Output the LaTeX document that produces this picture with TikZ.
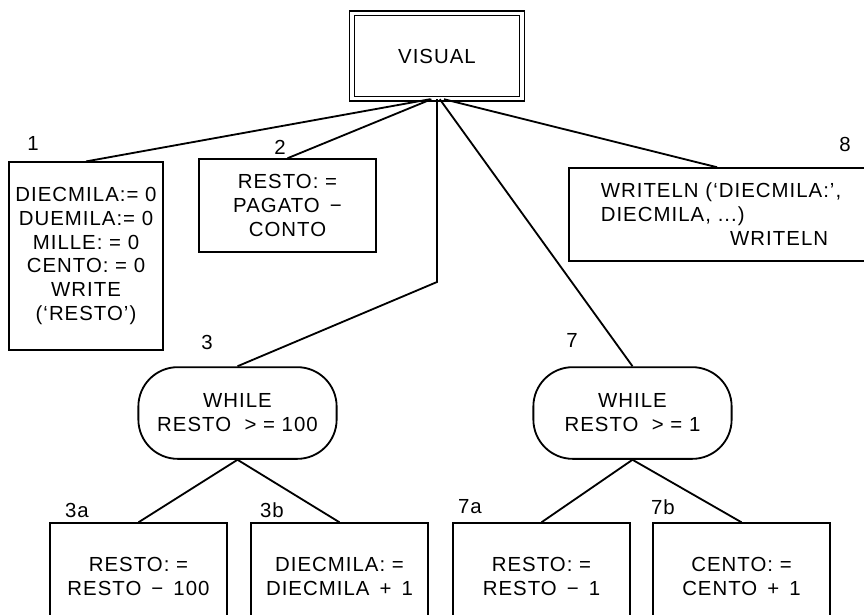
\documentclass[tikz,border=0pt]{standalone}
\usepackage{fontspec}
\setmainfont{Liberation Sans}[LetterSpace=5]

\begin{document}
\begin{tikzpicture}[x=0.025cm, y=-0.025cm,
	every node/.style={font=\fontsize{14.5}{17}\selectfont},
	box/.style={draw, line width=1.3pt, align=center, inner sep=0pt},
	cell/.style={box, minimum width=125.4pt, minimum height=75.8pt},
	whilebox/.style={box, rounded corners=28pt, minimum width=141pt, minimum height=65.2pt},
	num/.style={inner sep=0pt},
	link/.style={line width=1.3pt}]

	\clip (0,0) rectangle (864,614);

	% main block
	\node[box, double, line width=0.9pt, double distance=2.6pt,
		minimum width=121pt, minimum height=60.6pt] (vis) at (437,56) {VISUAL};

	% first level
	\node[box, minimum width=109.1pt, minimum height=133.2pt] (init) at (86,256)
		{DIECMILA:= 0\\DUEMILA:= 0\\MILLE: = 0\\CENTO: = 0\\WRITE\\(‘RESTO’)};
	\node[box, minimum width=125.4pt, minimum height=65.9pt] (resto) at (287.5,205.5)
		{RESTO: =\\PAGATO \,−\\CONTO};
	\node[box, anchor=west, align=left, text width=191pt, inner xsep=22.7pt,
		minimum height=65.9pt] (out) at (568,214.5)
		{WRITELN (‘DIECMILA:’,\\DIECMILA, ...)\\\makebox[161.6pt][r]{WRITELN}};

	\node[whilebox] (w100) at (237.5,413) {WHILE\\RESTO \ > = 100};
	\node[whilebox] (w1) at (632.5,413) {WHILE\\RESTO \ > = 1};

	% loop bodies
	\node[cell] (c3a) at (138.5,576.5) {RESTO: =\\RESTO \,−\, 100};
	\node[cell] (c3b) at (339.5,576.5) {DIECMILA: =\\DIECMILA \,+\, 1};
	\node[cell] (c7a) at (541.5,576.5) {RESTO: =\\RESTO \,−\, 1};
	\node[cell] (c7b) at (741.5,576.5) {CENTO: =\\CENTO \,+\, 1};

	% step numbers
	\node[num] (n1) at (33,143) {1};
	\node[num] (n2) at (280,147) {2};
	\node[num] (n3) at (207,342) {3};
	\node[num] (n7) at (572,340) {7};
	\node[num] (n8) at (845,144) {8};
	\node[num] (n3a) at (77,510) {3a};
	\node[num] (n3b) at (272,510) {3b};
	\node[num] (n7a) at (470,507) {7a};
	\node[num] (n7b) at (663,507) {7b};

	\coordinate (bend) at (437,282);

	\draw[link] ([xshift=-5pt]vis.south) -- (init.north);
	\draw[link] ([xshift=-4pt]vis.south) -- (resto.north);
	\draw[link] (vis.south) -- (bend) -- (w100.north);
	\draw[link] ([xshift=2pt]vis.south) -- (w1.north);
	\draw[link] ([xshift=5pt]vis.south) -- ([xshift=106pt]out.north west);

	\draw[link] (w100.south) -- (c3a.north);
	\draw[link] (w100.south) -- (c3b.north);
	\draw[link] (w1.south) -- (c7a.north);
	\draw[link] (w1.south) -- (c7b.north);
\end{tikzpicture}
\end{document}
